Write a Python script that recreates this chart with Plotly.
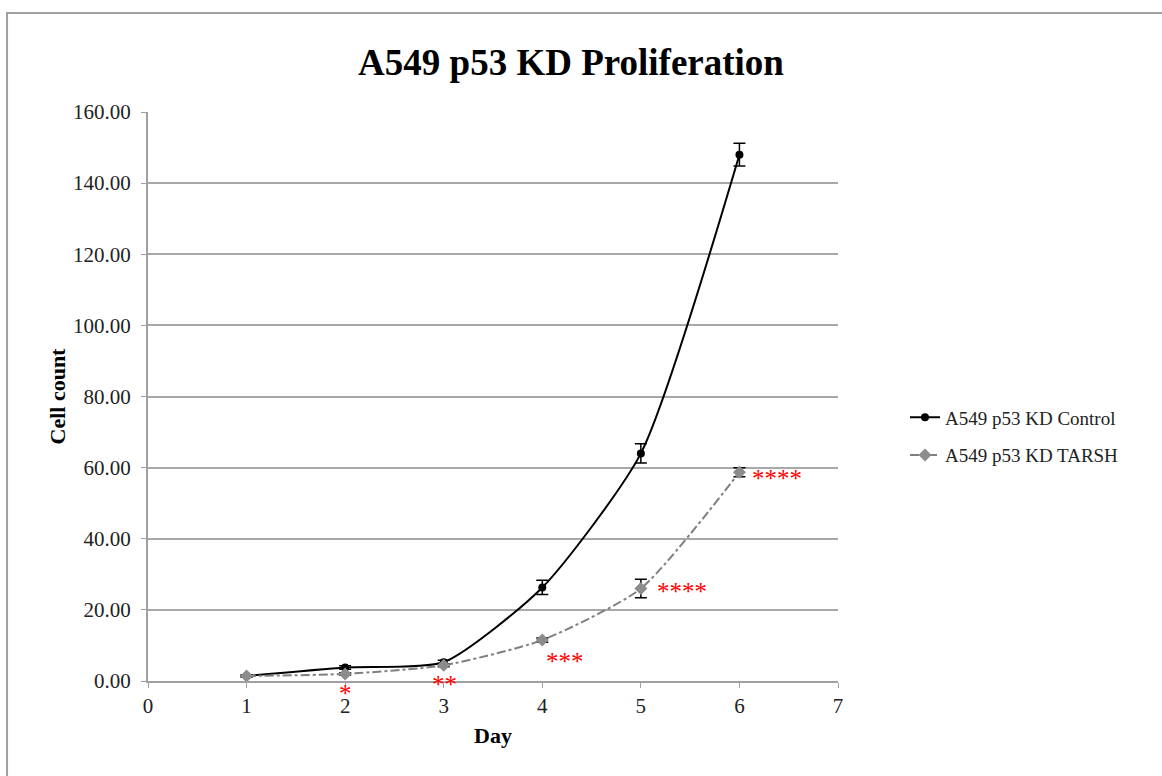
import plotly.graph_objects as go

days = [1, 2, 3, 4, 5, 6]
control = [1.4, 3.8, 5.3, 26.3, 64.0, 148.0]
control_err = [0.3, 0.5, 0.5, 2.0, 2.7, 3.2]
tarsh = [1.4, 2.0, 4.4, 11.5, 26.0, 58.7]
tarsh_err = [0.2, 0.3, 0.4, 0.6, 2.6, 1.3]

sig_labels = ["*", "**", "***", "****", "****"]
sig_x = [2.0, 3.01, 4.23, 5.42, 6.38]
sig_y = [0.0, 0.0, 5.5, 25.3, 57.0]
sig_shift = [-12, -3, 0, 0, 0]

FONT = "Liberation Serif"

fig = go.Figure()
fig.add_trace(go.Scatter(
    x=days, y=control, name="A549 p53 KD Control", mode="lines+markers",
    legendgroup="c",
    line=dict(color="black", width=2, shape="spline", smoothing=0.6),
    marker=dict(symbol="circle", size=8, color="black"),
    error_y=dict(type="data", array=control_err, color="black", thickness=1.5, width=6),
))
fig.add_trace(go.Scatter(
    x=days, y=tarsh, name="A549 p53 KD TARSH", mode="lines+markers",
    legendgroup="t",
    line=dict(color="#7f7f7f", width=2, dash="dashdot", shape="spline", smoothing=0.6),
    marker=dict(symbol="diamond", size=10, color="#8c8c8c"),
    error_y=dict(type="data", array=tarsh_err, color="black", thickness=1.5, width=6),
))

for lab, xx, yy, sh in zip(sig_labels, sig_x, sig_y, sig_shift):
    fig.add_annotation(x=xx, y=yy, yshift=sh, text=lab, showarrow=False,
                       font=dict(family=FONT, size=25, color="red"))

fig.add_shape(type="rect", xref="paper", yref="paper",
              x0=-0.2043, x1=1.48, y0=-0.2, y1=1.174,
              line=dict(color="#a0a0a0", width=2), fillcolor="rgba(0,0,0,0)",
              layer="below")

fig.update_layout(
    width=1162, height=776,
    margin=dict(l=148, r=324, t=112, b=95),
    paper_bgcolor="white", plot_bgcolor="white",
    font=dict(family=FONT, size=21, color="black"),
    title=dict(text="<b>A549 p53 KD Proliferation</b>", x=571/1162, xanchor="center",
               y=1 - 62/776, yanchor="middle", font=dict(family=FONT, size=37)),
    xaxis=dict(range=[0, 7], dtick=1, tick0=0, showgrid=False, zeroline=False,
               showline=True, linecolor="#a0a0a0", linewidth=2,
               ticks="outside", ticklen=5, tickcolor="#a0a0a0",
               tickfont=dict(family=FONT, size=21, color="#222"),
               title=dict(text="<b>Day</b>", font=dict(family=FONT, size=22), standoff=10)),
    yaxis=dict(range=[0, 160], dtick=20, tickformat=".2f", showgrid=True,
               gridcolor="#a8a8a8", gridwidth=1.5, zeroline=False,
               showline=True, linecolor="#a0a0a0", linewidth=2,
               ticks="outside", ticklen=5, tickcolor="#a0a0a0",
               ticklabelstandoff=6,
               tickfont=dict(family=FONT, size=21, color="#222"),
               title=dict(text="<b>Cell count</b>", font=dict(family=FONT, size=22), standoff=1)),
    legend=dict(x=(905 - 148) / 690, y=(681 - 436.5) / 569, xanchor="left", yanchor="middle",
                font=dict(family=FONT, size=19, color="#222"), bgcolor="rgba(0,0,0,0)",
                tracegroupgap=10),
    showlegend=True,
)

fig.write_html("out.html")
